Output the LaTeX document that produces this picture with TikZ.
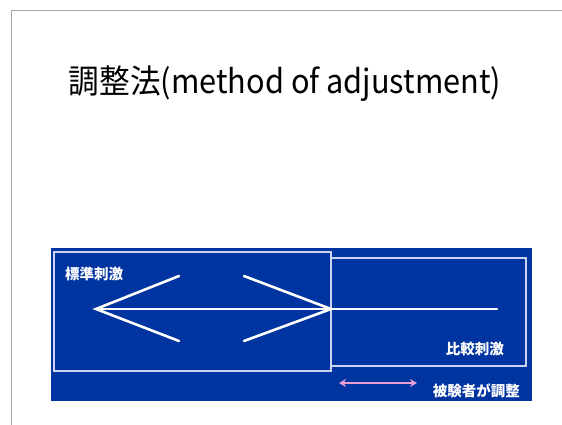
\documentclass[tikz,border=0pt]{standalone}
\usepackage{fontspec}
\newfontfamily\cjk{Noto Sans CJK JP}
\newfontfamily\cjktitle[FakeStretch=0.93]{Noto Sans CJK JP}
\usetikzlibrary{arrows.meta}
\definecolor{panelblue}{RGB}{0,52,160}
\definecolor{boxline}{RGB}{205,212,240}
\definecolor{pinkarrow}{RGB}{232,160,210}
\tikzset{
  panel/.style={fill=panelblue, draw=none},
  stimbox/.style={draw=boxline, line width=1.3pt},
  whiteline/.style={draw=white, line width=2.6pt, line cap=round, line join=miter},
  lbl/.style={text=white, font=\cjk\bfseries\fontsize{14.5}{16}\selectfont, inner sep=0pt},
  titletext/.style={font=\cjktitle\fontsize{33}{38}\selectfont, inner sep=0pt}
}
\begin{document}
\begin{tikzpicture}[x=1pt,y=-1pt]
\useasboundingbox (0,0) rectangle (562,425);
% slide edges
\draw[gray!70, line width=1pt] (11,425) -- (11,11) -- (562,11);
% title
\node[titletext, anchor=center] (title) at (285,84) {調整法(method of adjustment)};
% blue panel
\fill[panel] (51,248) rectangle (532,401);
% stimulus boxes
\draw[stimbox] (54,252) rectangle (331,371);
\draw[stimbox] (331,258) rectangle (526,366);
% coordinates
\coordinate (ltip) at (96,309);
\coordinate (rtip) at (331,309);
\coordinate (lend) at (497,309);
\coordinate (la1) at (179,276);
\coordinate (la2) at (179,341);
\coordinate (ra1) at (244,276);
\coordinate (ra2) at (244,341);
\draw[whiteline] (ltip) -- (lend);
\draw[whiteline] (la1) -- (ltip) -- (la2);
\draw[whiteline] (ra1) -- (rtip) -- (ra2);
% labels
\node[lbl, anchor=west] (std) at (65,274) {標準刺激};
\node[lbl, anchor=east] (cmp) at (504,349) {比較刺激};
\node[lbl, anchor=east] (adj) at (520,391) {被験者が調整};
% pink arrow
\coordinate (pa) at (339,383);
\coordinate (pb) at (417,383);
\draw[pinkarrow, line width=2pt, {Stealth[length=7pt,width=8pt]}-{Stealth[length=7pt,width=8pt]}] (pa) -- (pb);
\end{tikzpicture}
\end{document}
